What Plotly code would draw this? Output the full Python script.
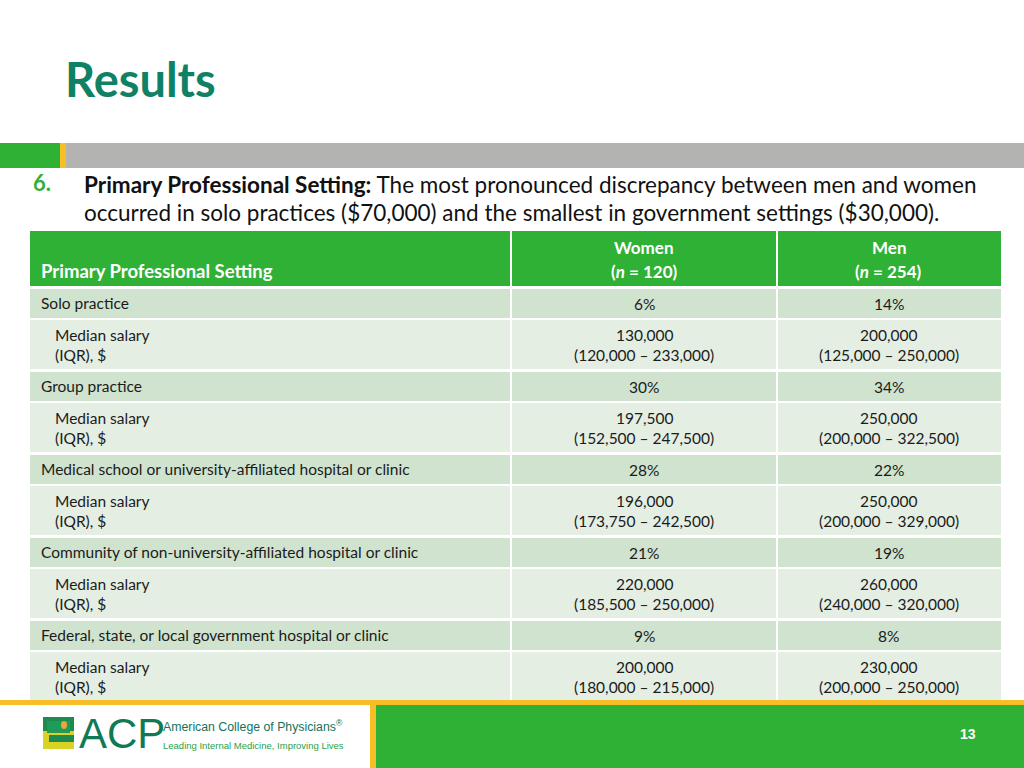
import plotly.graph_objects as go

# ---------------- data ----------------
title_text = "Results"
point_number = "6."
subtitle_bold = "Primary Professional Setting:"
subtitle_rest_1 = " The most pronounced discrepancy between men and women"
subtitle_line_2 = "occurred in solo practices ($70,000) and the smallest in government settings ($30,000)."

col_header_setting = "Primary Professional Setting"
group_names = ["Women", "Men"]
group_n = [120, 254]

settings = [
    "Solo practice",
    "Group practice",
    "Medical school or university-affiliated hospital or clinic",
    "Community of non-university-affiliated hospital or clinic",
    "Federal, state, or local government hospital or clinic",
]
women_pct = [6, 30, 28, 21, 9]
men_pct = [14, 34, 22, 19, 8]
women_median = [130000, 197500, 196000, 220000, 200000]
women_iqr_low = [120000, 152500, 173750, 185500, 180000]
women_iqr_high = [233000, 247500, 242500, 250000, 215000]
men_median = [200000, 250000, 250000, 260000, 230000]
men_iqr_low = [125000, 200000, 200000, 240000, 200000]
men_iqr_high = [250000, 322500, 329000, 320000, 250000]
median_label = ["Median salary", "(IQR), $"]
page_number = "13"

# ---------------- styles ----------------
W, H = 1024, 768
GREEN = "#2eb135"
TEAL = "#0f8266"
YELLOW = "#f7be27"
GRAY = "#b3b4b2"
ROW_CAT = "#cfe3cf"
ROW_MED = "#e4eee3"
TXT = "#1b1b1b"
TFONT = "Lato"
BFONT = "Lato"
LFONT = "Liberation Sans"
FS = 15.5

shapes = []
ann = []


def rect(x0, y0, x1, y1, color):
    shapes.append(dict(type="rect", xref="x", yref="y", x0=x0, y0=y0, x1=x1, y1=y1,
                       fillcolor=color, line=dict(width=0), layer="below"))


def text(x, y, s, size, color=TXT, anchor="left", family=TFONT, bold=False):
    if bold:
        s = "<b>" + s + "</b>"
    ann.append(dict(x=x, y=y, xref="x", yref="y", text=s, showarrow=False,
                    xanchor=anchor, yanchor="middle",
                    font=dict(size=size, color=color, family=family)))


# title
text(63, 79, title_text, 47, TEAL, family=BFONT, bold=True)

# top bar
rect(0, 143, 60, 168, GREEN)
rect(60, 143, 66, 168, YELLOW)
rect(66, 143, W, 168, GRAY)

# subtitle
text(31, 182, point_number, 22, GREEN, family=BFONT, bold=True)
text(82, 184, "<b>" + subtitle_bold + "</b>" + subtitle_rest_1, 22.5, "#111111", family=BFONT)
text(82, 212, subtitle_line_2, 22.5, "#111111", family=BFONT)

# table geometry
X0, X1, X2, X3 = 30, 510, 776, 1001
cx = [(X1 + X2) / 2 + 1, (X2 + X3) / 2]
HDR0, HDR1 = 231, 286

# header
rect(X0, HDR0, X1, HDR1, GREEN)
rect(X1 + 2, HDR0, X2, HDR1, GREEN)
rect(X2 + 2, HDR0, X3, HDR1, GREEN)
text(39, 271, col_header_setting, 18.5, "white", bold=True)
for i in range(2):
    text(cx[i], 247, group_names[i], 17, "white", anchor="center", bold=True)
    text(cx[i], 271, "(<i>n</i> = %d)" % group_n[i], 17, "white", anchor="center", bold=True)


def fmt(v):
    return "{:,}".format(v)


y = 289
CAT_H, MED_H, GAP = 29, 49, 2
for k, name in enumerate(settings):
    # category row
    c0, c1 = y, y + CAT_H
    rect(X0, c0, X1, c1, ROW_CAT)
    rect(X1 + 2, c0, X2, c1, ROW_CAT)
    rect(X2 + 2, c0, X3, c1, ROW_CAT)
    cm = (c0 + c1) / 2
    text(39, cm - 1, name, FS, TXT)
    text(cx[0], cm, "%d%%" % women_pct[k], FS, TXT, anchor="center")
    text(cx[1], cm, "%d%%" % men_pct[k], FS, TXT, anchor="center")
    # median row
    m0 = c1 + GAP
    m1 = m0 + MED_H
    rect(X0, m0, X1, m1, ROW_MED)
    rect(X1 + 2, m0, X2, m1, ROW_MED)
    rect(X2 + 2, m0, X3, m1, ROW_MED)
    ya, yb = m0 + 15, m0 + 35
    text(53, ya, median_label[0], FS, TXT)
    text(53, yb, median_label[1], FS, TXT)
    text(cx[0], ya, fmt(women_median[k]), FS, TXT, anchor="center")
    text(cx[0], yb, "(%s – %s)" % (fmt(women_iqr_low[k]), fmt(women_iqr_high[k])), FS, TXT, anchor="center")
    text(cx[1], ya, fmt(men_median[k]), FS, TXT, anchor="center")
    text(cx[1], yb, "(%s – %s)" % (fmt(men_iqr_low[k]), fmt(men_iqr_high[k])), FS, TXT, anchor="center")
    y = m1 + GAP + 1

# footer
rect(0, 700, W, 705, YELLOW)
rect(370, 705, 376, H, YELLOW)
rect(376, 705, W, H, GREEN)
text(968, 734, page_number, 14, "white", anchor="center", family=LFONT, bold=True)

# logo
rect(43, 717, 74, 749, "#1d8a4f")
rect(43, 731, 74, 749, "#d9d227")
rect(47, 721, 70, 733, "#1f9a58")
shapes.append(dict(type="circle", xref="x", yref="y", x0=61, y0=721, x1=67, y1=729,
                   fillcolor="#e9a73a", line=dict(width=0)))
rect(49, 735, 74, 742, "#1d8a4f")
text(77, 733, "ACP", 42, "#117a55", family=LFONT)
text(161, 726, "American College of Physicians<sup>®</sup>", 12.3, "#17725a", family=LFONT)
text(161, 745, "Leading Internal Medicine, Improving Lives", 9.5, "#2aa04a", family=LFONT)

fig = go.Figure()
fig.update_layout(
    width=W, height=H, autosize=False,
    margin=dict(l=0, r=0, t=0, b=0),
    paper_bgcolor="white", plot_bgcolor="white",
    xaxis=dict(range=[0, W], visible=False, fixedrange=True),
    yaxis=dict(range=[H, 0], visible=False, fixedrange=True),
    shapes=shapes, annotations=ann, showlegend=False,
)
fig.write_html("out.html", config={"displayModeBar": False},
               post_script="document.body.style.margin='0';document.body.style.overflow='hidden';")
